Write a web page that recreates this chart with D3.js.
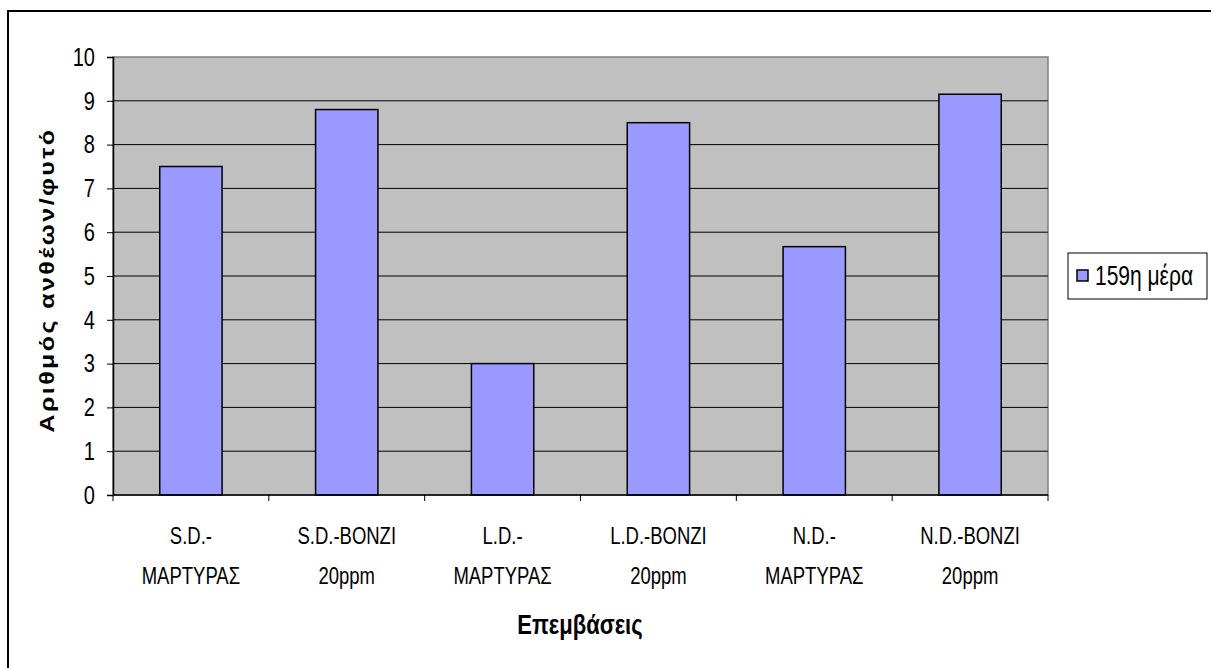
<!DOCTYPE html>
<html>
<head>
<meta charset="utf-8">
<script src="https://cdn.jsdelivr.net/npm/d3@7"></script>
<style>
  html, body { margin: 0; padding: 0; background: #fff; }
  svg { display: block; }
  text { font-family: "Liberation Sans", Arial, sans-serif; fill: #000; }
</style>
</head>
<body>
<svg id="chart" width="1211" height="668"></svg>
<script>
// Treatments (two-line labels) and flowers per plant on day 159
const categories = ["S.D.-|ΜΑΡΤΥΡΑΣ", "S.D.-BONZI|20ppm", "L.D.-|ΜΑΡΤΥΡΑΣ", "L.D.-BONZI|20ppm", "N.D.-|ΜΑΡΤΥΡΑΣ", "N.D.-BONZI|20ppm"];
const values = [7.5, 8.8, 3.0, 8.5, 5.67, 9.15];
const yTicks = [0, 1, 2, 3, 4, 5, 6, 7, 8, 9, 10];
const seriesName = "159η μέρα";
const xTitle = "Επεμβάσεις";
const yTitle = "Αριθμός ανθέων/φυτό";

// the chart's text is drawn slightly tall
const TALL = 1.28;

const svg = d3.select("#chart");

// outer chart frame
svg.append("rect")
  .attr("x", 8).attr("y", 11).attr("width", 1220).attr("height", 680)
  .attr("fill", "#fff").attr("stroke", "#000").attr("stroke-width", 2);

const plot = { left: 113, right: 1048, top: 57, bottom: 495 };

const x = d3.scaleBand().domain(categories).range([plot.left, plot.right]).paddingInner(0.6).paddingOuter(0.3);
const xCat = d3.scaleBand().domain(categories).range([plot.left, plot.right]);
const y = d3.scaleLinear().domain([0, 10]).range([plot.bottom, plot.top]);

// plot background
svg.append("rect")
  .attr("x", plot.left).attr("y", plot.top)
  .attr("width", plot.right - plot.left).attr("height", plot.bottom - plot.top)
  .attr("fill", "#c0c0c0").attr("stroke", "#808080").attr("stroke-width", 1.5);

// horizontal gridlines
svg.append("g").selectAll("line").data(yTicks.filter(d => d > 0 && d < 10)).join("line")
  .attr("x1", plot.left).attr("x2", plot.right)
  .attr("y1", d => y(d)).attr("y2", d => y(d))
  .attr("stroke", "#000").attr("stroke-width", 1);

// bars
svg.append("g").selectAll("rect").data(values).join("rect")
  .attr("x", (d, i) => x(categories[i]))
  .attr("y", d => y(d))
  .attr("width", x.bandwidth())
  .attr("height", d => y(0) - y(d))
  .attr("fill", "#9999ff").attr("stroke", "#000").attr("stroke-width", 1.5);

// y axis
const yAxis = svg.append("g")
  .attr("transform", `translate(${plot.left},0)`)
  .call(d3.axisLeft(y).tickValues(yTicks).tickSize(6).tickPadding(12).tickFormat(d3.format("d")));
yAxis.select(".domain").attr("stroke", "#000").attr("stroke-width", 1.5);
yAxis.selectAll(".tick line").attr("stroke", "#000");
yAxis.selectAll(".tick text")
  .attr("font-size", 20)
  .attr("font-family", "Liberation Sans, Arial, sans-serif")
  .attr("fill", "#000")
  .attr("transform", `scale(1,${TALL})`);

// x axis with ticks between categories
const xAxisG = svg.append("g").attr("transform", `translate(0,${plot.bottom})`);
xAxisG.append("line").attr("x1", plot.left).attr("x2", plot.right)
  .attr("stroke", "#000").attr("stroke-width", 1.5);
xAxisG.selectAll("line.tk").data(d3.range(categories.length + 1)).join("line")
  .attr("class", "tk")
  .attr("x1", i => plot.left + xCat.step() * i)
  .attr("x2", i => plot.left + xCat.step() * i)
  .attr("y1", 0).attr("y2", 6).attr("stroke", "#000");

// two-line category labels
categories.forEach(c => {
  const cx = xCat(c) + xCat.bandwidth() / 2;
  c.split("|").forEach((line, j) => {
    xAxisG.append("text")
      .attr("transform", `translate(${cx},${41 + j * 40}) scale(1,${TALL})`)
      .attr("text-anchor", "middle")
      .attr("dy", "0.35em")
      .attr("font-size", 18.5)
      .text(line);
  });
});

// axis titles
svg.append("text")
  .attr("transform", `translate(580,634) scale(1,${TALL})`)
  .attr("text-anchor", "middle")
  .attr("font-size", 22).attr("font-weight", "bold").text(xTitle);
svg.append("text")
  .attr("transform", `translate(54,280) rotate(-90) scale(${TALL},1)`)
  .attr("text-anchor", "middle").attr("font-size", 19.5).attr("font-weight", "bold")
  .attr("letter-spacing", 1.9)
  .attr("font-family", "DejaVu Sans, sans-serif")
  .text(yTitle);

// legend
const lg = svg.append("g").attr("transform", "translate(1068,253)");
lg.append("rect").attr("width", 139).attr("height", 46).attr("fill", "#fff").attr("stroke", "#000").attr("stroke-width", 1);
lg.append("rect").attr("x", 9).attr("y", 17).attr("width", 11).attr("height", 11)
  .attr("fill", "#9999ff").attr("stroke", "#000").attr("stroke-width", 1.5);
lg.append("text")
  .attr("transform", `translate(27,23) scale(1,${TALL})`)
  .attr("dy", "0.35em")
  .attr("font-size", 21).text(seriesName);
</script>
</body>
</html>
